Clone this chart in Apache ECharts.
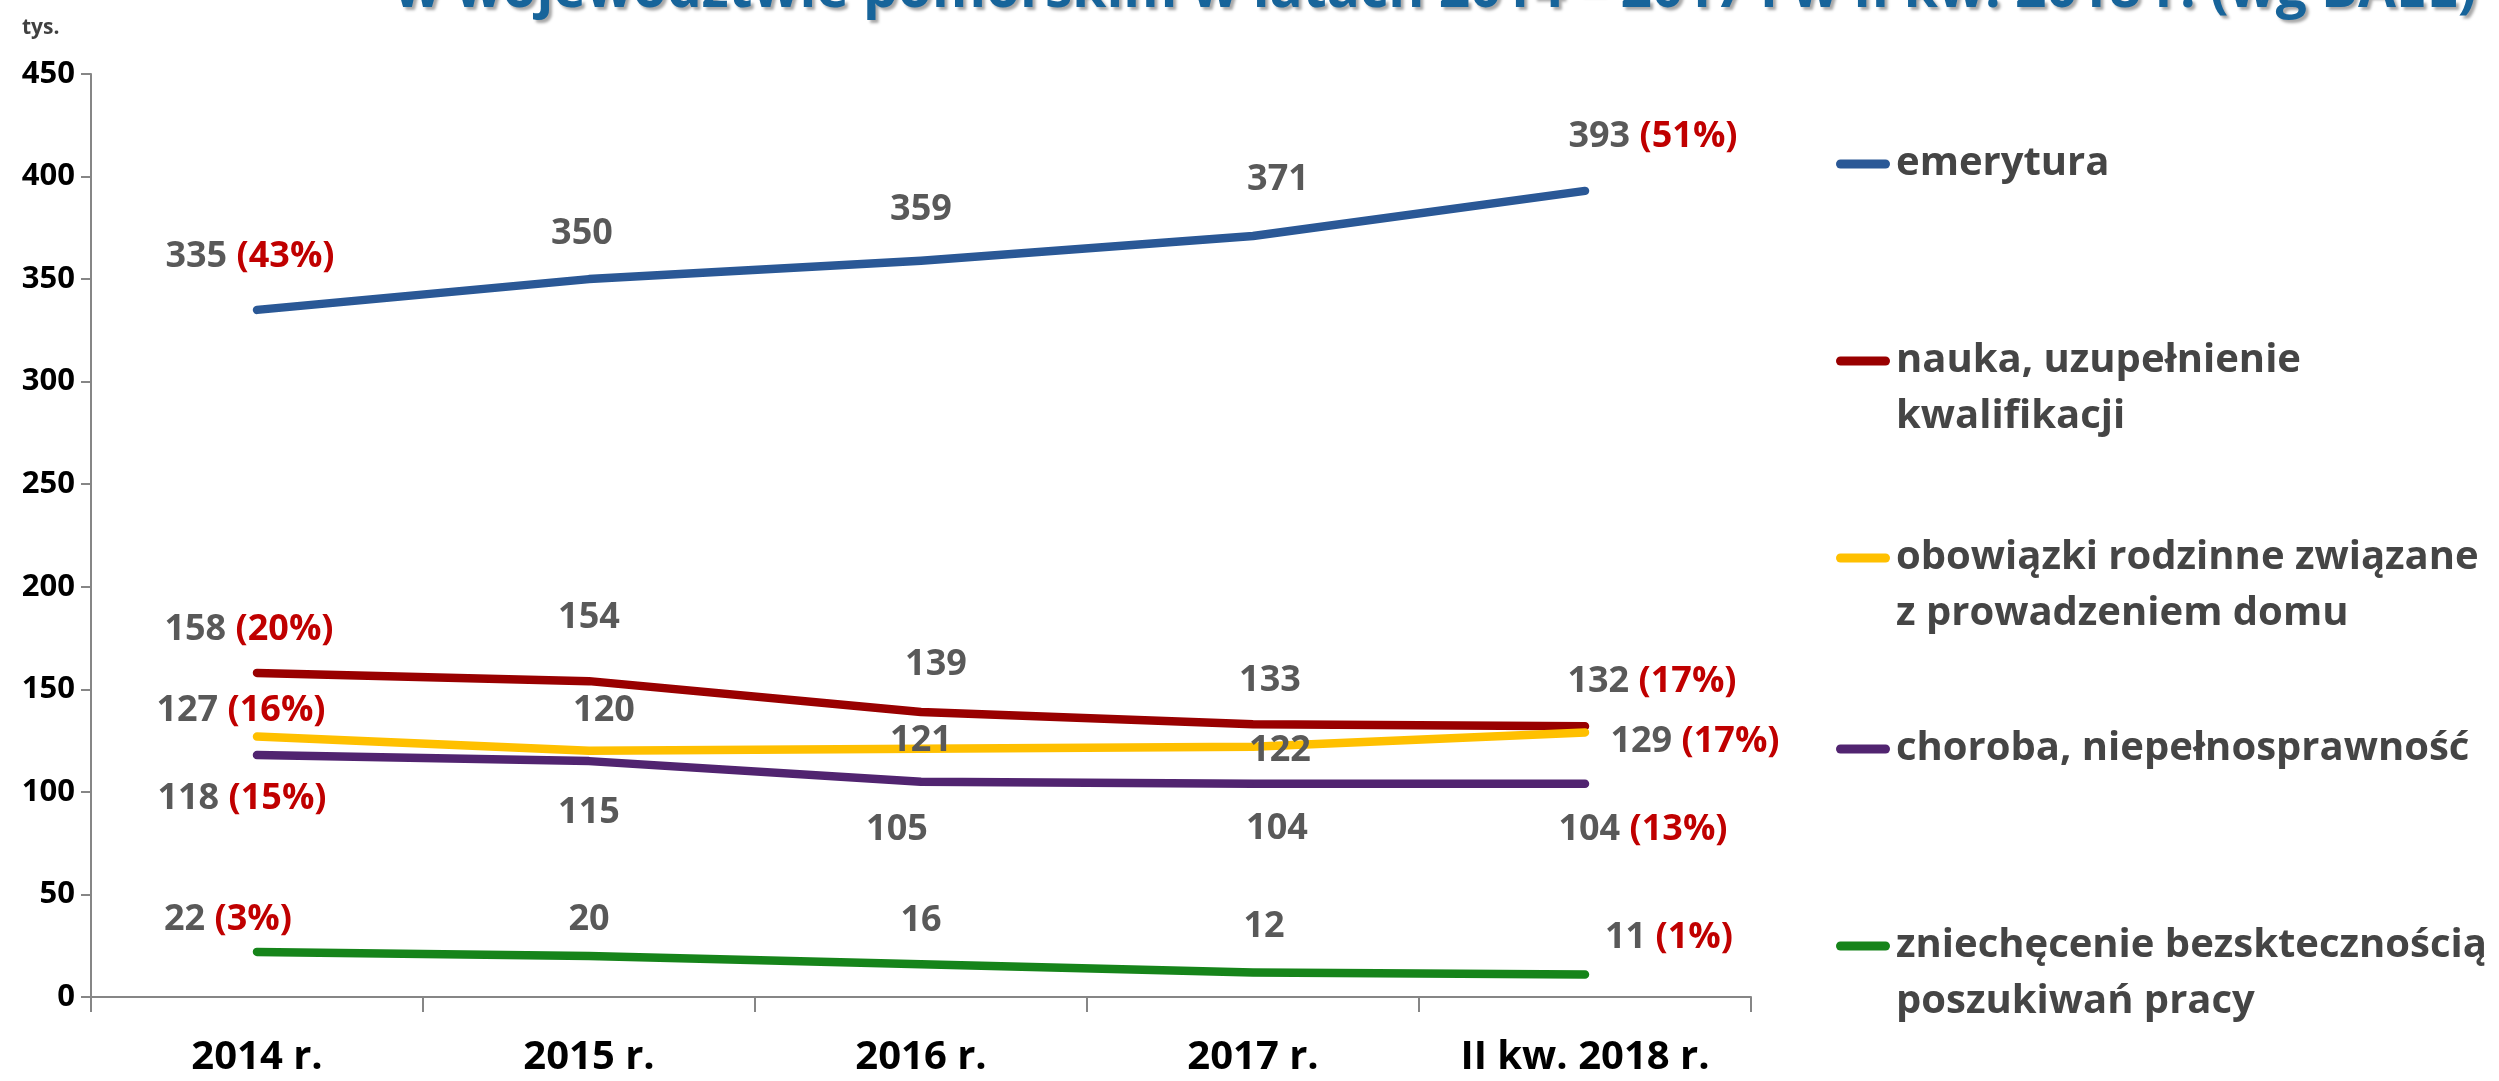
<!DOCTYPE html>
<html>
<head>
<meta charset="utf-8">
<script src="https://cdn.jsdelivr.net/npm/echarts@6/dist/echarts.min.js"></script>
<style>
html,body{margin:0;padding:0;background:#fff;}
#chart{width:2499px;height:1081px;}
</style>
</head>
<body>
<div id="chart"></div>
<script>
// ---- data ----
const categories = ['2014 r.', '2015 r.', '2016 r.', '2017 r.', 'II kw. 2018 r.'];
const seriesNames = [
  'emerytura',
  'nauka, uzupełnienie\nkwalifikacji',
  'obowiązki rodzinne związane\nz prowadzeniem domu',
  'choroba, niepełnosprawność',
  'zniechęcenie bezsktecznością\nposzukiwań pracy'
];
const emerytura = [335, 350, 359, 371, 393];
const nauka = [158, 154, 139, 133, 132];
const obowiazki = [127, 120, 121, 122, 129];
const choroba = [118, 115, 105, 104, 104];
const zniechecenie = [22, 20, 16, 12, 11];
const shareFirst = [43, 20, 16, 15, 3];
const shareLast = [51, 17, 17, 13, 1];
const yTicks = { min: 0, max: 450, interval: 50 };
const titleText = 'w województwie pomorskim w latach 2014 – 2017 i w II kw. 2018 r. (wg BAEL)';
const unitText = 'tys.';

// ---- styling / layout ----
const seriesValues = [emerytura, nauka, obowiazki, choroba, zniechecenie];
const colors = ['#2A5896', '#990000', '#FFC000', '#512470', '#16841A'];
const labelOffsets = [
  [[-7, -53], [-7, -45], [0, -51], [25, -56], [68, -54]],
  [[-8, -43], [0, -63], [15, -47], [17, -43], [67, -45]],
  [[-16, -26], [15, -40], [0, -8], [27, 4], [110, 9]],
  [[-15, 44], [0, 52], [-24, 48], [24, 45], [58, 46]],
  [[-29, -32], [0, -36], [0, -43], [11, -46], [84, -37]]
];
const legendIconY = [161, 358, 555, 746, 943];
const FONT = 'Open Sans';
const LEGEND_ICON = 'path://M4.5,0H49.5A4.5,4.5,0,0,1,49.5,9H4.5A4.5,4.5,0,0,1,4.5,0Z';

const chart = echarts.init(document.getElementById('chart'), null, { renderer: 'canvas' });

const series = seriesValues.map((vals, si) => ({
  name: seriesNames[si],
  type: 'line',
  data: vals.map((v, i) => ({
    value: v,
    label: { offset: labelOffsets[si][i] }
  })),
  symbol: 'circle',
  symbolSize: 1,
  showSymbol: true,
  itemStyle: { color: colors[si] },
  lineStyle: { width: 8.5, color: colors[si], cap: 'round', join: 'round' },
  emphasis: { disabled: true },
  z: 2 + si,
  label: {
    show: true,
    position: 'inside',
    align: 'center',
    verticalAlign: 'middle',
    formatter: (p) => {
      let s = '{v|' + p.value + '}';
      if (p.dataIndex === 0) s += '{v| }{p|(' + shareFirst[si] + '%)}';
      if (p.dataIndex === vals.length - 1) s += '{v| }{p|(' + shareLast[si] + '%)}';
      return s;
    },
    rich: {
      v: { fontFamily: FONT, fontWeight: 'bold', fontSize: 36, color: '#595959' },
      p: { fontFamily: FONT, fontWeight: 'bold', fontSize: 36, color: '#C00000' }
    }
  }
}));

const legends = seriesNames.map((n, i) => {
  const twoLine = n.indexOf('\n') >= 0;
  return {
    data: [n],
    left: 1836,
    top: legendIconY[i] - (twoLine ? 84 : 28),
    orient: 'vertical',
    padding: 0,
    icon: LEGEND_ICON,
    itemWidth: 56,
    itemHeight: 9,
    selectedMode: false,
    formatter: (name) => (name.indexOf('\n') >= 0 ? ' \n' : '') + name,
    textStyle: {
      fontFamily: FONT,
      fontWeight: 'bold',
      fontSize: 40,
      lineHeight: 56,
      color: '#454545',
      padding: [6, 0, 0, 0]
    }
  };
});

chart.setOption({
  animation: false,
  backgroundColor: '#ffffff',
  color: colors,
  grid: { left: 91, right: 748, top: 74, bottom: 84, containLabel: false },
  legend: legends,
  xAxis: {
    type: 'category',
    data: categories,
    boundaryGap: true,
    axisLine: { show: true, lineStyle: { color: '#868686', width: 2 } },
    axisTick: { show: true, interval: 0, length: 15, lineStyle: { color: '#868686', width: 2 } },
    axisLabel: {
      interval: 0,
      margin: 41,
      fontFamily: FONT,
      fontWeight: 'bold',
      fontSize: 40,
      color: '#000000'
    },
    splitLine: { show: false }
  },
  yAxis: {
    type: 'value',
    min: yTicks.min,
    max: yTicks.max,
    interval: yTicks.interval,
    axisLine: { show: true, lineStyle: { color: '#868686', width: 2 } },
    axisTick: { show: true, length: 10, lineStyle: { color: '#868686', width: 2 } },
    axisLabel: {
      margin: 16,
      fontFamily: FONT,
      fontWeight: 'bold',
      fontSize: 31,
      color: '#000000'
    },
    splitLine: { show: false }
  },
  graphic: [
    {
      type: 'text',
      left: 394,
      top: -36,
      silent: true,
      style: {
        text: titleText,
        fontFamily: FONT,
        fontWeight: 'bold',
        fontSize: 55,
        fill: '#17649A',
        textShadowColor: 'rgba(0,0,0,0.35)',
        textShadowBlur: 3,
        textShadowOffsetX: 3,
        textShadowOffsetY: 3
      }
    },
    {
      type: 'text',
      left: 22,
      top: 18,
      silent: true,
      style: {
        text: unitText,
        fontFamily: FONT,
        fontWeight: 'bold',
        fontSize: 21,
        fill: '#404040'
      }
    }
  ],
  series: series
});
</script>
</body>
</html>
